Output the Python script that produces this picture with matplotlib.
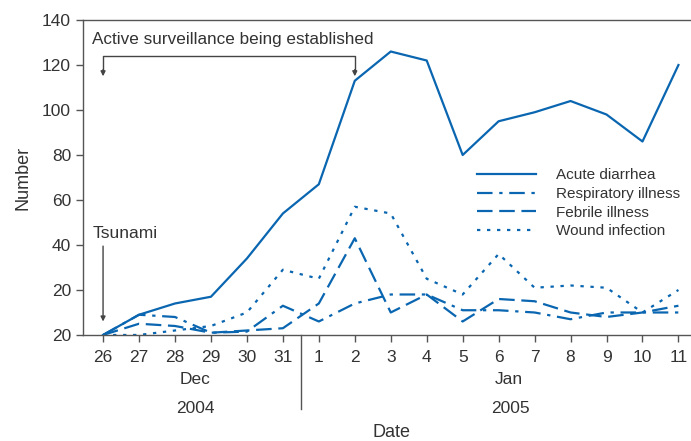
import numpy as np
import matplotlib
matplotlib.use("Agg")
import matplotlib.pyplot as plt

plt.rcParams["font.family"] = ["Liberation Sans", "DejaVu Sans"]

# -----------------------------
# Data
# -----------------------------
day_labels = ["26", "27", "28", "29", "30", "31", "1", "2", "3", "4",
              "5", "6", "7", "8", "9", "10", "11"]
acute_diarrhea = [0, 9, 14, 17, 34, 54, 67, 113, 126, 122, 80, 95, 99, 104, 98, 86, 120]
respiratory = [0, 9, 8, 1, 1.5, 13, 6, 14, 18, 18, 11, 11, 10, 7, 10, 10, 10]
febrile = [0, 5, 4, 1, 2, 3, 14, 43, 10, 18, 6, 16, 15, 10, 8, 10, 13]
wound = [0, 0, 2, 4, 10, 29, 25, 57, 54, 25, 18, 36, 21, 22, 21, 10, 20]
y_ticks = [0, 20, 40, 60, 80, 100, 120, 140]
y_tick_labels = ["20", "20", "40", "60", "80", "100", "120", "140"]

blue = "#0a66b0"
grey = "#555555"
text_c = "#333333"

x = np.arange(len(day_labels))

fig = plt.figure(figsize=(6.91, 4.41), dpi=100)
ax = fig.add_axes([0.120, 0.2404, 0.93, 0.7142])

ax.plot(x, acute_diarrhea, color=blue, lw=1.6, ls="-", label="Acute diarrhea")
ax.plot(x, respiratory, color=blue, lw=1.6, dashes=(7, 3, 1.5, 3), label="Respiratory illness")
ax.plot(x, febrile, color=blue, lw=1.6, dashes=(7, 3), label="Febrile illness")
ax.plot(x, wound, color=blue, lw=1.6, dashes=(1.5, 3), label="Wound infection")

ax.set_xlim(-0.56, 17.31)
ax.set_ylim(0, 140)
ax.set_xticks(x)
ax.set_xticklabels(day_labels)
ax.set_yticks(y_ticks)
ax.set_yticklabels(y_tick_labels)
ax.tick_params(colors=grey, labelcolor=text_c, labelsize=12.5, length=5, width=1)
ax.tick_params(axis="x", pad=6)

ax.spines["right"].set_visible(False)
for s in ["left", "bottom", "top"]:
    ax.spines[s].set_color(grey)
    ax.spines[s].set_linewidth(1)

ax.set_ylabel("Number", fontsize=13, color=text_c, labelpad=8)

# month / year labels and separator
tr = ax.get_xaxis_transform()
ax.plot([5.5, 5.5], [0, -0.235], transform=tr, color=grey, lw=1, clip_on=False)
ax.text(2.56, -0.14, "Dec", transform=tr, ha="center", va="center", fontsize=12.5, color=text_c)
ax.text(11.28, -0.14, "Jan", transform=tr, ha="center", va="center", fontsize=12.5, color=text_c)
ax.text(2.56, -0.235, "2004", transform=tr, ha="center", va="center", fontsize=12.5, color=text_c)
ax.text(11.33, -0.235, "2005", transform=tr, ha="center", va="center", fontsize=12.5, color=text_c)
fig.text(0.567, 0.02, "Date", ha="center", va="center", fontsize=13, color=text_c)

# annotations
arrow = dict(arrowstyle="-|>", color="#444444", lw=1, mutation_scale=7, shrinkA=0, shrinkB=0)
ax.text(-0.3, 45, "Tsunami", fontsize=12.5, color=text_c, va="center", ha="left")
ax.annotate("", xy=(0, 6), xytext=(0, 39.5), arrowprops=arrow)
ax.text(-0.3, 131.5, "Active surveillance being established", fontsize=12.3,
        color=text_c, va="center", ha="left")
ax.plot([0, 0, 7, 7], [117, 124, 124, 117], color="#444444", lw=1)
ax.annotate("", xy=(0, 115), xytext=(0, 118), arrowprops=arrow)
ax.annotate("", xy=(7, 115), xytext=(7, 118), arrowprops=arrow)

leg = fig.legend(*ax.get_legend_handles_labels(), loc="upper left",
                 bbox_to_anchor=(0.690, 0.618), frameon=False,
                 fontsize=11, handlelength=3.86, handletextpad=1.3,
                 labelspacing=0.3, borderpad=0, borderaxespad=0)
for t in leg.get_texts():
    t.set_color(text_c)

fig.savefig("out.png", dpi=100)
